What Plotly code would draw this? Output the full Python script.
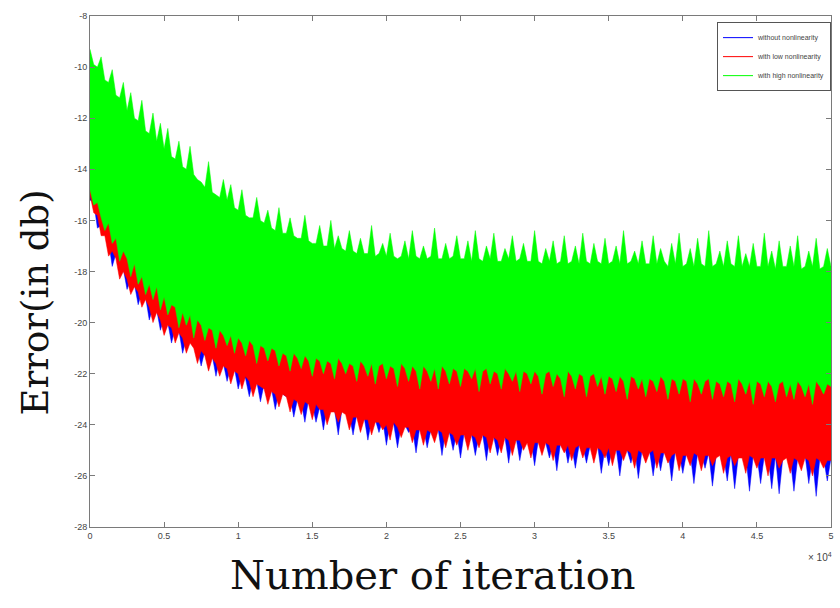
import plotly.graph_objects as go

# ---------------- data (dB) ----------------
iters = list(range(0, 50001, 250))            # sampling grid, 201 points
iters_coarse = list(range(0, 50001, 5000))    # grid for the hidden upper edges

series_names = ["without nonlinearity", "with low nonlinearity", "with high nonlinearity"]
series_colors = ["#0000ff", "#ff0000", "#00ff00"]

# with high nonlinearity (green): upper / lower edge of the noisy trace
green_hi = [
    -9.3, -9.9, -10.0, -9.6, -10.5, -10.6, -10.1, -11.1, -11.2, -10.6,
    -11.7, -11.0, -12.0, -12.1, -11.3, -12.5, -12.6, -11.8, -12.9, -12.2,
    -13.2, -12.4, -13.5, -13.6, -12.9, -13.9, -14.0, -13.1, -14.2, -14.4,
    -14.5, -14.7, -13.7, -14.9, -15.0, -15.1, -14.4, -15.2, -14.6, -15.5,
    -15.6, -14.8, -15.8, -15.9, -15.9, -15.1, -16.0, -16.1, -15.6, -16.3,
    -16.4, -15.5, -16.5, -16.5, -15.9, -16.6, -16.7, -16.7, -15.8, -16.8,
    -16.9, -16.9, -16.2, -17.0, -17.0, -16.0, -17.1, -16.6, -17.1, -17.2,
    -16.4, -17.2, -17.3, -16.7, -17.3, -17.3, -16.2, -17.4, -17.3, -16.9,
    -17.4, -16.5, -17.4, -17.5, -17.4, -16.8, -17.5, -16.4, -17.4, -17.5,
    -17.0, -17.5, -17.4, -16.3, -17.5, -17.5, -16.9, -17.5, -17.4, -16.6,
    -17.5, -17.5, -16.8, -17.6, -16.4, -17.5, -17.6, -17.0, -17.5, -16.5,
    -17.6, -17.6, -17.1, -17.5, -16.6, -17.6, -17.5, -16.9, -17.6, -17.6,
    -16.4, -17.6, -17.7, -17.1, -17.6, -16.8, -17.7, -17.6, -16.6, -17.7,
    -17.6, -17.0, -17.7, -16.5, -17.6, -17.7, -16.9, -17.6, -17.7, -16.7,
    -17.7, -17.6, -17.0, -17.7, -16.4, -17.7, -17.6, -17.2, -17.7, -16.8,
    -17.7, -17.7, -16.6, -17.7, -17.1, -17.6, -17.8, -16.9, -17.7, -16.5,
    -17.8, -17.7, -17.1, -17.8, -16.7, -17.7, -17.8, -16.4, -17.8, -17.7,
    -17.2, -17.8, -16.8, -17.7, -17.8, -16.6, -17.8, -17.3, -17.8, -16.9,
    -17.8, -17.8, -16.5, -17.8, -17.2, -17.9, -16.8, -17.8, -17.8, -17.0,
    -17.8, -16.6, -17.9, -17.8, -17.2, -17.8, -16.7, -17.9, -17.8, -17.1,
    -17.8,
]
green_lo = [
    -14.8, -15.4, -15.3, -15.9, -16.4, -16.1, -16.9, -16.7, -17.6, -17.2,
    -17.5, -18.2, -17.7, -18.5, -18.2, -18.9, -18.5, -19.1, -18.6, -19.5,
    -19.0, -19.7, -19.3, -19.4, -20.2, -19.6, -20.1, -19.7, -20.6, -19.9,
    -20.1, -20.7, -20.2, -20.3, -21.0, -20.3, -20.5, -20.9, -20.5, -21.2,
    -20.6, -20.8, -21.3, -20.7, -20.9, -21.6, -20.9, -21.0, -21.5, -21.0,
    -21.1, -21.7, -21.2, -21.3, -21.9, -21.2, -21.4, -21.8, -21.3, -21.5,
    -22.1, -21.4, -21.5, -22.0, -21.5, -21.6, -22.2, -21.4, -21.6, -22.0,
    -21.6, -21.7, -22.3, -21.5, -21.7, -22.1, -21.6, -22.4, -21.7, -21.6,
    -22.2, -21.7, -21.8, -22.5, -21.6, -21.8, -22.3, -21.7, -21.9, -22.6,
    -21.7, -21.9, -22.3, -21.8, -22.6, -21.7, -21.9, -22.4, -21.8, -21.9,
    -22.5, -21.8, -21.9, -22.2, -21.8, -22.7, -21.9, -21.8, -22.4, -21.9,
    -22.0, -22.6, -21.8, -22.0, -22.3, -21.9, -22.7, -21.9, -22.0, -22.4,
    -21.9, -22.1, -22.8, -22.0, -21.9, -22.5, -22.0, -22.2, -22.9, -21.9,
    -22.1, -22.6, -22.0, -22.1, -22.9, -22.1, -22.0, -22.5, -22.1, -22.8,
    -22.1, -22.2, -22.7, -22.1, -22.3, -23.0, -22.1, -22.2, -22.6, -22.2,
    -22.9, -22.2, -22.3, -22.7, -22.1, -22.3, -23.0, -22.2, -22.3, -22.8,
    -22.2, -22.3, -23.1, -22.2, -22.4, -22.8, -22.3, -22.2, -23.0, -22.3,
    -22.4, -22.9, -22.3, -22.4, -23.1, -22.2, -22.4, -22.8, -22.3, -23.2,
    -22.3, -22.4, -22.9, -22.3, -22.5, -23.1, -22.4, -22.3, -22.9, -22.4,
    -23.0, -22.3, -22.5, -22.9, -22.4, -23.2, -22.3, -22.5, -22.8, -22.4,
    -22.5,
]

# with low nonlinearity (red)
red_hi = [-14.0, -17.5, -19.0, -19.8, -20.2, -20.5, -20.7, -20.9, -21.0, -21.1, -21.2]
red_lo = [
    -15.0, -15.7, -15.8, -16.6, -16.6, -17.4, -17.2, -17.5, -18.3, -18.0,
    -18.3, -18.9, -18.6, -18.8, -19.4, -19.1, -19.4, -20.0, -19.6, -19.9,
    -20.5, -20.1, -20.2, -20.8, -20.4, -20.6, -21.2, -20.8, -21.0, -21.6,
    -21.1, -21.3, -21.9, -21.4, -21.6, -22.1, -21.7, -21.8, -22.4, -21.9,
    -22.0, -22.6, -22.1, -22.3, -22.9, -22.4, -22.5, -22.6, -23.2, -22.7,
    -22.8, -23.3, -22.8, -22.9, -23.5, -23.0, -23.1, -23.6, -23.1, -23.2,
    -23.8, -23.2, -23.4, -23.4, -24.0, -23.5, -23.5, -23.9, -23.5, -23.6,
    -24.2, -23.7, -23.7, -24.3, -23.8, -23.8, -24.4, -23.9, -23.9, -24.2,
    -24.0, -24.6, -23.9, -24.1, -24.5, -24.1, -24.1, -24.7, -24.2, -24.2,
    -24.8, -24.2, -24.3, -24.7, -24.2, -24.3, -24.9, -24.3, -24.4, -24.8,
    -24.4, -24.4, -25.0, -24.4, -24.5, -24.9, -24.4, -24.5, -25.1, -24.5,
    -24.6, -25.1, -24.5, -24.6, -25.2, -24.6, -24.6, -25.0, -24.7, -25.3,
    -24.7, -24.7, -25.2, -24.7, -24.8, -25.4, -24.8, -24.8, -25.1, -24.8,
    -25.4, -24.9, -24.8, -25.3, -24.9, -24.9, -25.5, -24.9, -25.0, -25.3,
    -24.9, -25.6, -25.0, -25.0, -25.4, -25.0, -25.1, -25.7, -25.0, -25.1,
    -25.5, -25.1, -25.0, -25.7, -25.1, -25.1, -25.5, -25.2, -25.1, -25.8,
    -25.2, -25.2, -25.6, -25.1, -25.2, -25.8, -25.2, -25.2, -25.6, -25.3,
    -25.2, -25.9, -25.3, -25.2, -25.6, -25.3, -25.3, -25.9, -25.2, -25.3,
    -25.7, -25.3, -25.3, -26.0, -25.3, -25.3, -25.7, -25.4, -25.3, -25.9,
    -25.3, -25.4, -25.8, -25.3, -25.4, -26.0, -25.3, -25.4, -25.7, -25.4,
    -25.4,
]

# without nonlinearity (blue)
blue_hi = [-14.2, -18.0, -19.5, -20.5, -21.0, -21.3, -21.6, -21.8, -22.0, -22.1, -22.2]
blue_lo = [
    -15.2, -15.3, -16.3, -16.2, -16.5, -16.8, -17.8, -17.3, -17.6, -17.9,
    -18.7, -18.3, -18.5, -19.3, -18.8, -19.0, -19.9, -19.4, -19.5, -20.3,
    -19.8, -20.0, -20.8, -20.2, -20.3, -21.2, -20.6, -20.7, -20.8, -21.0,
    -21.7, -21.1, -21.2, -21.3, -22.1, -21.4, -21.6, -22.3, -21.7, -21.8,
    -22.6, -22.0, -22.2, -22.9, -22.2, -22.3, -23.1, -22.4, -22.5, -22.6,
    -23.4, -22.7, -22.8, -22.9, -22.9, -23.7, -23.0, -23.1, -23.9, -23.0,
    -23.2, -23.9, -23.3, -24.2, -23.3, -23.4, -23.4, -24.4, -23.4, -23.5,
    -23.6, -24.4, -23.6, -23.7, -23.7, -24.6, -23.8, -23.8, -24.3, -23.8,
    -24.8, -23.9, -24.0, -24.9, -24.0, -24.0, -24.3, -24.1, -25.1, -24.1,
    -24.1, -24.9, -24.2, -24.2, -24.2, -25.2, -24.2, -24.3, -25.0, -24.3,
    -25.3, -24.3, -24.4, -24.4, -25.2, -24.4, -24.4, -25.4, -24.4, -24.5,
    -25.2, -24.5, -24.5, -25.5, -24.5, -24.5, -25.4, -24.6, -24.6, -24.6,
    -25.6, -24.6, -24.6, -24.7, -25.3, -24.7, -25.8, -24.7, -24.7, -25.5,
    -24.8, -25.7, -24.8, -24.8, -25.5, -24.8, -24.8, -24.8, -25.9, -24.9,
    -25.6, -24.9, -24.9, -26.0, -24.9, -25.0, -25.5, -24.9, -26.1, -25.0,
    -25.0, -25.0, -26.0, -25.0, -25.8, -25.0, -25.0, -26.2, -25.0, -25.1,
    -25.9, -25.1, -25.1, -26.3, -25.1, -25.1, -25.7, -25.1, -26.4, -25.2,
    -25.1, -25.2, -26.2, -25.1, -26.5, -25.2, -25.2, -25.2, -26.6, -25.2,
    -25.2, -26.3, -25.2, -25.2, -26.5, -25.2, -26.7, -25.3, -25.2, -25.3,
    -26.6, -25.3, -25.3, -25.2, -26.3, -25.3, -26.8, -25.3, -25.3, -26.2,
    -25.3,
]

y_ticks = [-8, -10, -12, -14, -16, -18, -20, -22, -24, -26, -28]
y_ticktext = ["-8", "-10", "-12", "-14", "-16", "-18", "-20", "-22", "-24", "-26", "-28"]
x_ticks = [0, 5000, 10000, 15000, 20000, 25000, 30000, 35000, 40000, 45000, 50000]
x_ticktext = ["0", "0.5", "1", "1.5", "2", "2.5", "3", "3.5", "4", "4.5", "5"]

# ---------------- figure ----------------
fig = go.Figure()

bands = [
    (iters_coarse, blue_hi, iters, blue_lo),
    (iters_coarse, red_hi, iters, red_lo),
    (iters, green_hi, iters, green_lo),
]
for (xh, yh, xl, yl), color in zip(bands, series_colors):
    fig.add_trace(go.Scatter(
        x=list(xh) + list(xl)[::-1],
        y=list(yh) + list(yl)[::-1],
        mode="lines", fill="toself", fillcolor=color,
        line=dict(color=color, width=0.5),
        showlegend=False, hoverinfo="skip",
    ))

# legend entries (line swatches)
for name, color in zip(series_names, series_colors):
    fig.add_trace(go.Scatter(x=[None], y=[None], mode="lines", name=name,
                             line=dict(color=color, width=1)))

axis_common = dict(
    showline=True, linecolor="#7a7a7a", linewidth=1, mirror="ticks",
    ticks="inside", ticklen=5, tickcolor="#7a7a7a", tickwidth=1,
    showgrid=False, zeroline=False,
    tickfont=dict(family="Liberation Sans, Arial, sans-serif", size=9, color="#444444"),
)

fig.update_layout(
    width=840, height=608,
    margin=dict(l=90, r=6, t=16, b=81),
    paper_bgcolor="white", plot_bgcolor="white",
    xaxis=dict(range=[0, 50000], tickvals=x_ticks, ticktext=x_ticktext, **axis_common),
    yaxis=dict(range=[-28, -8], tickvals=y_ticks, ticktext=y_ticktext, **axis_common),
    legend=dict(
        x=1.0, y=0.988, xanchor="right", yanchor="top",
        bgcolor="white", bordercolor="#555555", borderwidth=1,
        font=dict(family="Liberation Sans, Arial, sans-serif", size=7, color="#444444"),
        tracegroupgap=0, itemwidth=30,
    ),
    showlegend=True,
    annotations=[
        dict(text="Number of iteration", xref="paper", yref="paper",
             x=0.4624, y=-0.094, xanchor="center", yanchor="middle", showarrow=False,
             font=dict(family="DejaVu Serif, serif", size=40, color="#111111")),
        dict(text="Error(in db)", xref="paper", yref="paper", textangle=-90,
             x=-0.0739, y=0.440, xanchor="center", yanchor="middle", showarrow=False,
             font=dict(family="DejaVu Serif, serif", size=37, color="#111111")),
        dict(text="× 10<sup>4</sup>", xref="paper", yref="paper",
             x=0.966, y=-0.058, xanchor="left", yanchor="middle", showarrow=False,
             font=dict(family="Liberation Sans, Arial, sans-serif", size=10, color="#444444")),
    ],
)

fig.write_html("out.html")
